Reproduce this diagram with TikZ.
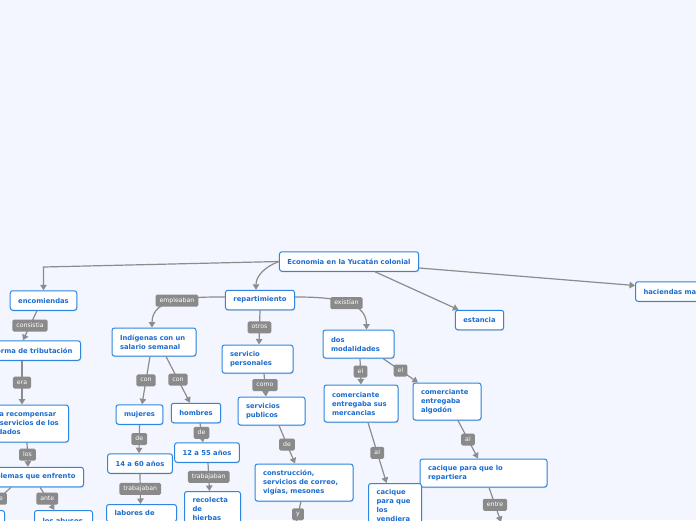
\documentclass[tikz,border=0pt]{standalone}
\usepackage{fontspec}
\usepackage{tikz}
\usetikzlibrary{arrows.meta,shadows}
\newfontfamily\mapfont{DejaVu Sans}
\definecolor{mapbg}{HTML}{F3F6FE}
\definecolor{mapblue}{HTML}{2F86E0}
\definecolor{mapink}{HTML}{1C6CD0}
\definecolor{tagfill}{HTML}{8A8A8A}
\definecolor{linegray}{HTML}{8C8C8C}
\tikzset{
  topic/.style={draw=mapblue, fill=white, rounded corners=2.5pt, line width=1pt,
    text=mapink, font=\mapfont\bfseries\fontsize{6.8}{9}\selectfont,
    inner xsep=8pt, inner ysep=3pt, minimum height=19.5pt,
    drop shadow={shadow xshift=0.5pt, shadow yshift=-1.2pt, fill=black!40, opacity=0.35}},
  twoline/.style={topic, minimum height=28pt, align=left},
  threeline/.style={topic, minimum height=37pt, align=left},
  cutoff/.style={topic, anchor=north west, align=left, inner ysep=6pt, minimum height=0pt},
  tag/.style={fill=tagfill, text=white, rounded corners=1.5pt,
    font=\mapfont\fontsize{6.2}{7}\selectfont, inner xsep=4pt, inner ysep=2.9pt,
    text height=4.7pt, text depth=1.5pt},
  link/.style={draw=linegray, line width=1.2pt, -{Triangle[width=6.5pt,length=5.5pt]}}
}
\begin{document}
\begin{tikzpicture}[x=1pt,y=1pt]
\useasboundingbox[fill=mapbg] (0,0) rectangle (696,-520);
\clip (0,0) rectangle (696,-520);
\path (349,-261.5) node[topic] (eco) {Economia en la Yucatán colonial}
      (43.5,-300.5) node[topic] (enc) {encomiendas}
      (260,-300) node[topic] (rep) {repartimiento}
      (479.5,-320) node[topic] (est) {estancia}
      (635,-291.5) node[topic, anchor=west, text width=80pt, align=left] (hac) {haciendas ma}
      (81,-350.5) node[topic, anchor=east] (trib) {forma de tributación}
      (154,-342) node[twoline, text width=68pt] (ind) {Indígenas con un\\salario semanal}
      (257.5,-359) node[twoline, text width=55pt] (sper) {servicio\\personales}
      (358.5,-344) node[twoline, text width=55pt] (dos) {dos\\modalidades}
      (69,-423.5) node[threeline, anchor=east, text width=74pt] (rec) {para recompensar\\los servicios de los\\soldados}
      (84,-477) node[topic, anchor=east] (prob) {problemas que enfrento}
      (139.5,-414.5) node[topic] (muj) {mujeres}
      (196,-413) node[topic] (hom) {hombres}
      (271.5,-411) node[twoline, text width=51pt] (spub) {servicios\\publicos}
      (361,-403.5) node[threeline, text width=58pt] (com1) {comerciante\\entregaba sus\\mercancias}
      (447,-401.5) node[threeline, text width=52pt] (com2) {comerciante\\entregaba\\algodón}
      (140,-463.5) node[topic] (e1460) {14 a 60 años}
      (207,-452.5) node[topic] (e1255) {12 a 55 años}
      (304,-482.5) node[threeline, text width=82pt] (cons) {construcción,\\servicios de correo,\\vigías, mesones}
      (483.5,-473) node[twoline, text width=111pt] (cacr) {cacique para que lo\\repartiera}
      (368,-483) node[cutoff, text width=37pt] (cacv) {cacique\\para que\\los\\vendiera}
      (106,-504) node[cutoff, text width=54pt] (lab) {labores de}
      (184,-491) node[cutoff, text width=40pt] (reco) {recolecta\\de\\hierbas}
      (34,-510) node[cutoff, text width=42pt, inner ysep=8pt] (abu) {los abusos}
      (5,-510) node[topic, anchor=north east, minimum width=40pt, minimum height=22pt] (izq) {}
      ;
\coordinate (encbend) at (43.5,-267);
\coordinate (yend) at (295,-527);
\coordinate (entreend) at (501,-522);

\draw[link] (eco.west) -- (encbend) -- (enc.north);
\draw[link] (eco.west) to[out=200,in=90] ([xshift=-4pt]rep.north);
\draw[link] ([xshift=26pt]eco.south) -- ([xshift=-21pt]est.north);
\draw[link] ([yshift=-6.5pt]eco.east) -- ([yshift=6pt]hac.west);

\draw[link] ([xshift=-6.5pt]enc.south) -- node[tag]{consistia} ([xshift=-58pt]trib.north east);
\draw[link] ([xshift=-59pt]trib.south east) -- node[tag]{era} ([xshift=-47pt]rec.north east);
\draw[link] ([xshift=-42pt]rec.south east) -- node[tag]{los} ([xshift=-56pt]prob.north east);
\draw[link] ([xshift=-73pt]prob.south east) -- node[tag]{de} ([xshift=-18pt]izq.north east);
\draw[link] ([xshift=-44pt]prob.south east) -- node[tag]{ante} ([xshift=-9pt]abu.north);

\draw[link] ([yshift=3pt]rep.west) to[out=180,in=90] node[tag,pos=0.5]{empleaban} ([xshift=-2pt]ind.north);
\draw[link] (rep.south) -- node[tag]{otros} ([xshift=1.5pt]sper.north);
\draw[link] ([yshift=3pt]rep.east) to[out=0,in=90] node[tag,pos=0.55]{existían} ([xshift=8pt]dos.north);
\draw[link] ([xshift=-4pt]ind.south) -- node[tag]{con} ([xshift=2.5pt]muj.north);
\draw[link] ([xshift=12pt]ind.south) -- node[tag]{con} ([xshift=-6pt]hom.north);
\draw[link] ([xshift=6.5pt]sper.south) -- node[tag]{como} ([xshift=-5.5pt]spub.north);
\draw[link] ([xshift=1.5pt]dos.south) -- node[tag]{el} (com1.north);
\draw[link] ([xshift=24.5pt]dos.south) -- node[tag]{el} ([xshift=-29pt]com2.north);
\draw[link] (muj.south) -- node[tag]{de} ([xshift=-1pt]e1460.north);
\draw[link] ([xshift=4pt]hom.south) -- node[tag]{de} ([xshift=-4pt]e1255.north);
\draw[link] ([xshift=7.5pt]spub.south) -- node[tag]{de} ([xshift=-9pt]cons.north);
\draw[link] ([xshift=7pt]com1.south) -- node[tag]{al} ([xshift=-8.5pt]cacv.north);
\draw[link] ([xshift=11pt]com2.south) -- node[tag]{al} ([xshift=-5.5pt]cacr.north);
\draw[link] (e1460.south) -- node[tag]{trabajaban} ([xshift=-1pt]lab.north);
\draw[link] ([xshift=1pt]e1255.south) -- node[tag]{trabajaban} ([xshift=-3pt]reco.north);
\draw[link] ([xshift=-3pt]cons.south) -- node[tag]{y} (yend);
\draw[link] ([xshift=5.5pt]cacr.south) -- node[tag]{entre} (entreend);
\end{tikzpicture}
\end{document}
